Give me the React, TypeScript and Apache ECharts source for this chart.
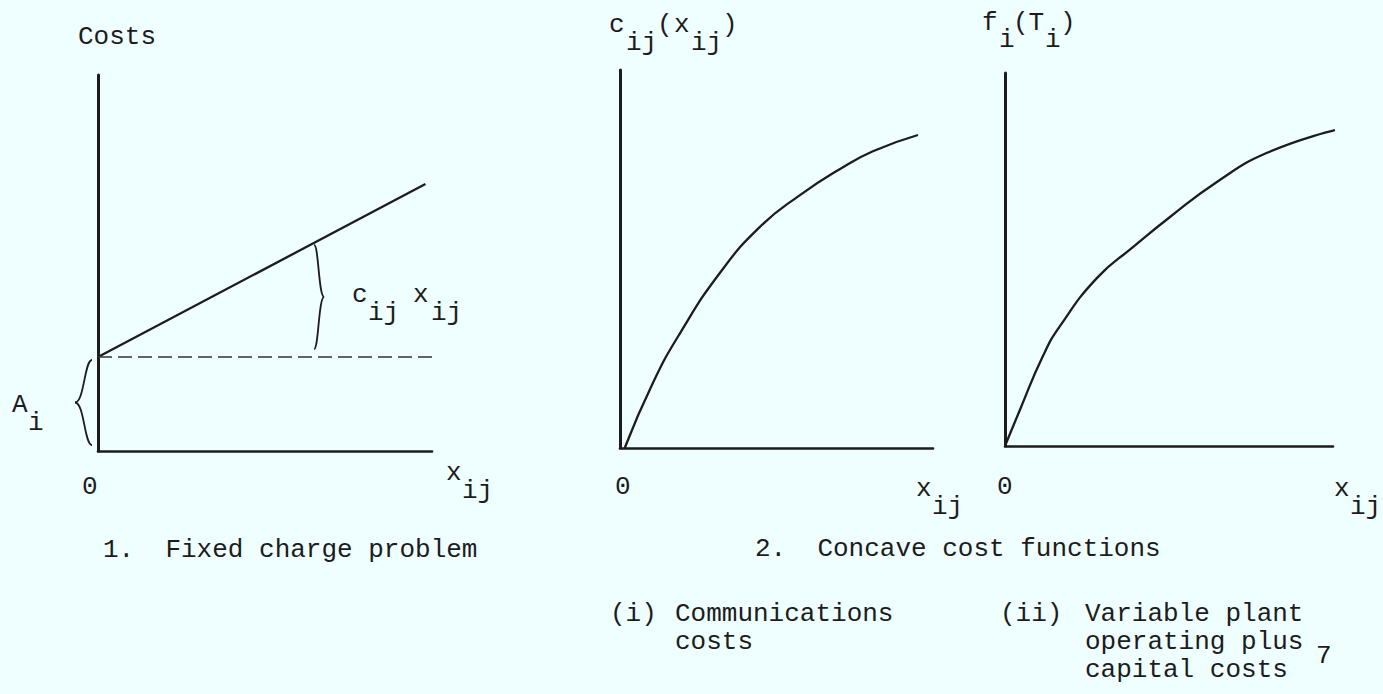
import React, { useEffect, useRef } from "react";
import * as echarts from "echarts";

// ---- data ----
const linearX = [0, 10];
const linearY = [2.5, 7.1];
const fixedCharge = 2.5;
const dashedEndX = 10.25;
const braceX = 6.6;

const commX = [0.15, 1.05, 1.92, 3.19, 4.47, 5.75, 7.03, 8.08, 9.52];
const commY = [0, 1.72, 3.04, 4.63, 5.85, 6.69, 7.38, 7.85, 8.28];

const plantX = [0, 0.46, 1.16, 1.68, 2.8, 3.9, 5.03, 6.46, 7.99, 10.06];
const plantY = [0, 0.98, 2.42, 3.22, 4.5, 5.33, 6.14, 7.08, 7.86, 8.47];

const captions = ["1.  Fixed charge problem", "2.  Concave cost functions"];

const INK = "#1c1c1c";
const BG = "#effefe";

function zip(xs: number[], ys: number[]) {
  return xs.map((x, i) => [x, ys[i]]);
}

function txt(text: string, x: number, y: number, size = 26) {
  return {
    type: "text",
    x,
    y,
    silent: true,
    style: {
      text,
      fill: INK,
      font: `${size}px "Liberation Mono", "DejaVu Sans Mono", monospace`,
      lineHeight: size,
      textAlign: "left",
      verticalAlign: "middle",
    },
  };
}

function brace(xEnd: number, xTip: number, yTop: number, yBot: number) {
  const yMid = (yTop + yBot) / 2;
  const xs = xEnd + (xTip - xEnd) * 0.45;
  const style = { stroke: INK, lineWidth: 1.8, fill: "none" };
  return [
    {
      type: "bezierCurve",
      silent: true,
      shape: { x1: xEnd, y1: yTop, cpx1: xs, cpy1: yTop, cpx2: xs, cpy2: yMid, x2: xTip, y2: yMid },
      style,
    },
    {
      type: "bezierCurve",
      silent: true,
      shape: { x1: xEnd, y1: yBot, cpx1: xs, cpy1: yBot, cpx2: xs, cpy2: yMid, x2: xTip, y2: yMid },
      style,
    },
  ];
}

function axisPair(gridIndex: number, xMax: number, yMax: number) {
  return {
    x: {
      type: "value",
      gridIndex,
      min: 0,
      max: xMax,
      axisLine: { show: true, onZero: false, lineStyle: { color: INK, width: 2.6 } },
      axisTick: { show: false },
      axisLabel: { show: false },
      splitLine: { show: false },
    },
    y: {
      type: "value",
      gridIndex,
      min: 0,
      max: yMax,
      axisLine: { show: true, onZero: false, lineStyle: { color: INK, width: 3 } },
      axisTick: { show: false },
      axisLabel: { show: false },
      splitLine: { show: false },
    },
  };
}

export default function App() {
  const ref = useRef<HTMLDivElement>(null);

  useEffect(() => {
    if (!ref.current) return;
    const chart = echarts.init(ref.current, null, { renderer: "svg" });
    const a0 = axisPair(0, 10.2, 10);
    const a1 = axisPair(1, 10, 10);
    const a2 = axisPair(2, 10, 10);
    const curveStyle = { color: INK, width: 2.3 };

    chart.setOption({
      animation: false,
      backgroundColor: BG,
      grid: [
        { left: 98, top: 75, width: 334, height: 376 },
        { left: 620, top: 70, width: 313, height: 378 },
        { left: 1005, top: 73, width: 328, height: 373 },
      ],
      xAxis: [a0.x, a1.x, a2.x],
      yAxis: [a0.y, a1.y, a2.y],
      series: [
        {
          type: "line",
          xAxisIndex: 0,
          yAxisIndex: 0,
          data: zip(linearX, linearY),
          showSymbol: false,
          lineStyle: curveStyle,
          clip: false,
        },
        {
          type: "line",
          xAxisIndex: 0,
          yAxisIndex: 0,
          data: [
            [0, fixedCharge],
            [dashedEndX, fixedCharge],
          ],
          showSymbol: false,
          lineStyle: { color: "#333", width: 1.6, type: [14, 6] },
          clip: false,
        },
        {
          type: "line",
          xAxisIndex: 1,
          yAxisIndex: 1,
          data: zip(commX, commY),
          smooth: 0.5,
          showSymbol: false,
          lineStyle: curveStyle,
          clip: false,
        },
        {
          type: "line",
          xAxisIndex: 2,
          yAxisIndex: 2,
          data: zip(plantX, plantY),
          smooth: 0.5,
          showSymbol: false,
          lineStyle: curveStyle,
          clip: false,
        },
      ],
    });

    // annotation positions derived from the axes
    const origin = chart.convertToPixel({ gridIndex: 0 }, [0, 0]) as number[];
    const pA = chart.convertToPixel({ gridIndex: 0 }, [0, fixedCharge]) as number[];
    const slope = (linearY[1] - linearY[0]) / (linearX[1] - linearX[0]);
    const yAtBrace = linearY[0] + slope * (braceX - linearX[0]);
    const pTop = chart.convertToPixel({ gridIndex: 0 }, [braceX, yAtBrace]) as number[];
    const pBot = chart.convertToPixel({ gridIndex: 0 }, [braceX, fixedCharge]) as number[];

    const graphic: any[] = [
      ...brace(origin[0] - 6, origin[0] - 23, pA[1] + 3, origin[1] - 6),
      ...brace(pTop[0], pTop[0] + 10, pTop[1] + 2, pBot[1] - 8),
      txt("Costs", 78, 37),
      txt("A", 12, 405),
      txt("i", 28, 423),
      txt("c", 352, 295),
      txt("ij", 368, 313),
      txt("x", 413, 295),
      txt("ij", 431, 313),
      txt("0", 82, 487),
      txt("x", 446, 473),
      txt("ij", 462, 491),
      txt("c", 609, 25),
      txt("ij", 626, 43),
      txt("(", 657, 25),
      txt("x", 674, 25),
      txt("ij", 691, 43),
      txt(")", 722, 25),
      txt("0", 615, 487),
      txt("x", 916, 489),
      txt("ij", 932, 507),
      txt("f", 982, 23),
      txt("i", 999, 40),
      txt("(T", 1013, 23),
      txt("i", 1045, 40),
      txt(")", 1060, 23),
      txt("0", 997, 487),
      txt("x", 1334, 489),
      txt("ij", 1350, 507),
      txt(captions[0], 103, 550),
      txt(captions[1], 755, 549),
      txt("(i)", 610, 614),
      txt("Communications", 675, 614),
      txt("costs", 675, 642),
      txt("(ii)", 1000, 614),
      txt("Variable plant", 1085, 614),
      txt("operating plus", 1085, 642),
      txt("capital costs", 1085, 670),
      txt("7", 1316, 656),
    ];
    chart.setOption({ graphic });

    return () => chart.dispose();
  }, []);

  return (
    <div
      ref={ref}
      style={{ position: "fixed", left: 0, top: 0, width: 1383, height: 694, background: BG }}
    />
  );
}
